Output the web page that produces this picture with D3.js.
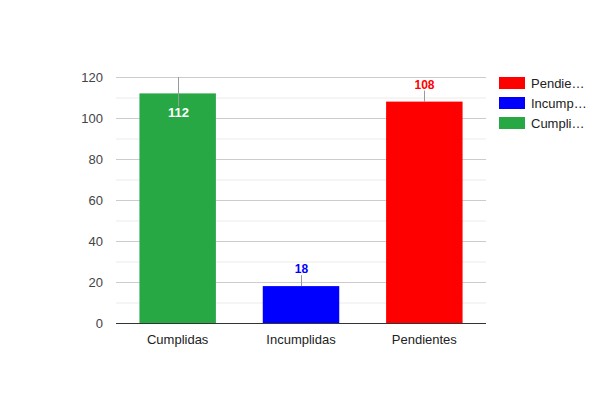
<!DOCTYPE html>
<html><head><meta charset="utf-8">
<script src="https://cdn.jsdelivr.net/npm/d3@7"></script>
<style>body{margin:0;background:#fff}svg{font-family:Arial,"Liberation Sans",sans-serif}</style>
</head><body><svg id="c" width="600" height="400"></svg>
<script>
const categories = ["Cumplidas","Incumplidas","Pendientes"];
const values = [112, 18, 108];
const colors = ["#28a745","#0000ff","#ff0000"];
const legendLabels = ["Pendie…","Incump…","Cumpli…"];
const legendColors = ["#ff0000","#0000ff","#28a745"];
const yTicks = [0,20,40,60,80,100,120];
const yMinor = [10,30,50,70,90,110];

const svg = d3.select("#c");
const L=116,R=486,T=77,B=323;
const x = d3.scaleBand().domain(categories).range([L,R]).paddingInner(0.38).paddingOuter(0.19);
const y = d3.scaleLinear().domain([0,120]).range([B,T]);

svg.append("g").selectAll("line").data(yMinor).join("line")
 .attr("x1",L).attr("x2",R).attr("y1",d=>y(d)+0.5).attr("y2",d=>y(d)+0.5).attr("stroke","#ebebeb");
svg.append("g").selectAll("line").data(yTicks.slice(1)).join("line")
 .attr("x1",L).attr("x2",R).attr("y1",d=>y(d)+0.5).attr("y2",d=>y(d)+0.5).attr("stroke","#cccccc");

svg.append("g").selectAll("text").data(yTicks).join("text")
 .attr("x",L-13).attr("y",d=>y(d)+5).attr("text-anchor","end").attr("font-size",13).attr("fill","#444").text(d=>d);

svg.append("g").selectAll("rect").data(values).join("rect")
 .attr("x",(d,i)=>x(categories[i])).attr("width",x.bandwidth())
 .attr("y",d=>y(d)).attr("height",d=>B-y(d)).attr("fill",(d,i)=>colors[i]);

svg.append("line").attr("x1",L).attr("x2",R).attr("y1",B+0.5).attr("y2",B+0.5).attr("stroke","#333");

svg.append("g").selectAll("text").data(categories).join("text")
 .attr("x",d=>x(d)+x.bandwidth()/2).attr("y",B+21).attr("text-anchor","middle").attr("font-size",13).attr("fill","#222").text(d=>d);

// annotations
values.forEach((v,i)=>{
  const cx = Math.round(x(categories[i])+x.bandwidth()/2)+0.5;
  const top = y(v);
  const inside = top - 25 < T - 5;
  if(inside){
    svg.append("line").attr("x1",cx).attr("x2",cx).attr("y1",T).attr("y2",top+14).attr("stroke","#999");
    svg.append("text").attr("x",cx).attr("y",top+24).attr("text-anchor","middle").attr("font-size",13).attr("font-weight","bold")
      .attr("fill","#fff").attr("stroke",colors[i]).attr("stroke-width",3).attr("paint-order","stroke").text(v);
  } else {
    svg.append("line").attr("x1",cx).attr("x2",cx).attr("y1",top-11).attr("y2",top).attr("stroke","#999");
    svg.append("text").attr("x",cx).attr("y",top-13).attr("text-anchor","middle").attr("font-size",12).attr("font-weight","bold")
      .attr("fill",colors[i]).text(v);
  }
});

const lg = svg.append("g");
lg.selectAll("rect").data(legendColors).join("rect")
 .attr("x",499).attr("y",(d,i)=>77+i*20).attr("width",26).attr("height",12).attr("fill",d=>d);
lg.selectAll("text").data(legendLabels).join("text")
 .attr("x",531).attr("y",(d,i)=>88+i*20).attr("font-size",13).attr("fill","#222").text(d=>d);
</script></body></html>
